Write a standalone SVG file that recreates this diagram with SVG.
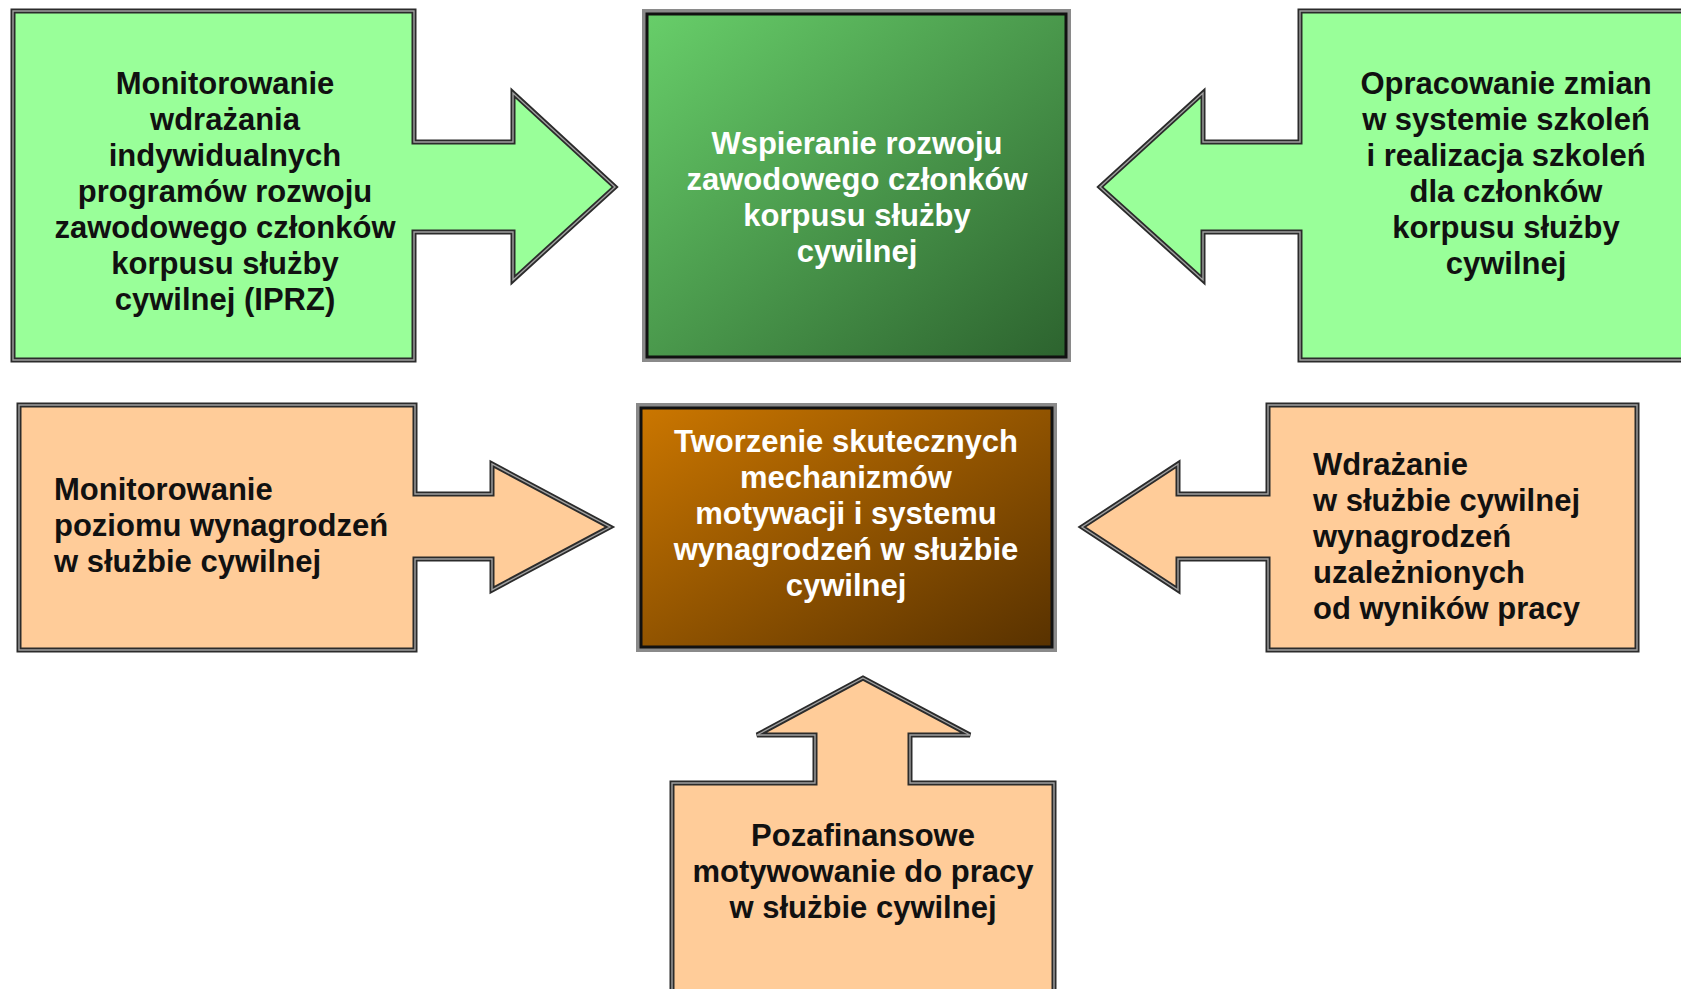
<svg xmlns="http://www.w3.org/2000/svg" width="1681" height="989" viewBox="0 0 1681 989">
<defs>
<linearGradient id="gGreen" x1="0" y1="0" x2="1" y2="1">
<stop offset="0" stop-color="#68cf6a"/>
<stop offset="1" stop-color="#2c622e"/>
</linearGradient>
<linearGradient id="gBrown" x1="0" y1="0" x2="1" y2="1">
<stop offset="0" stop-color="#cc7700"/>
<stop offset="1" stop-color="#573100"/>
</linearGradient>
<style>
.lg{fill:#99ff99}
.pe{fill:#ffcc99}
.o1{fill:none;stroke:#2b2b2b;stroke-width:5;stroke-linejoin:miter}
.o2{fill:none;stroke:#a0a0a0;stroke-width:1.4;stroke-linejoin:miter}
.c1{fill:none;stroke:#8a8a8a;stroke-width:4}
.c2{fill:none;stroke:#111;stroke-width:3}
.t{font-family:"Liberation Sans",Arial,sans-serif;font-weight:bold;font-size:31px;fill:#111}
.m{text-anchor:middle}
.w{fill:#fff}
</style>
</defs>
<rect width="1681" height="989" fill="#fff"/>
<g id="connectors"></g>

<g id="n-monitorowanie-iprz">
<path class="lg" d="M13,11 H414 V142 H513 V93 L615,187 L513,280 V232 H414 V360 H13 Z"/>
<path class="o1" d="M13,11 H414 V142 H513 V93 L615,187 L513,280 V232 H414 V360 H13 Z"/>
<path class="o2" d="M13,11 H414 V142 H513 V93 L615,187 L513,280 V232 H414 V360 H13 Z"/>
<text class="t m" x="225"><tspan x="225" y="94">Monitorowanie</tspan><tspan x="225" y="130">wdrażania</tspan><tspan x="225" y="166">indywidualnych</tspan><tspan x="225" y="202">programów rozwoju</tspan><tspan x="225" y="238">zawodowego członków</tspan><tspan x="225" y="274">korpusu służby</tspan><tspan x="225" y="310">cywilnej (IPRZ)</tspan></text>
</g>

<g id="n-wspieranie">
<rect x="644" y="11" width="425" height="349" fill="url(#gGreen)"/>
<rect class="c1" x="644" y="11" width="425" height="349"/>
<rect class="c2" x="647" y="14" width="419" height="343"/>
<text class="t m w"><tspan x="857" y="154">Wspieranie rozwoju</tspan><tspan x="857" y="190">zawodowego członków</tspan><tspan x="857" y="226">korpusu służby</tspan><tspan x="857" y="262">cywilnej</tspan></text>
</g>

<g id="n-opracowanie">
<path class="lg" d="M1300,11 H1700 V360 H1300 V232 H1203 V280 L1100,187 L1203,93 V142 H1300 Z"/>
<path class="o1" d="M1300,11 H1700 V360 H1300 V232 H1203 V280 L1100,187 L1203,93 V142 H1300 Z"/>
<path class="o2" d="M1300,11 H1700 V360 H1300 V232 H1203 V280 L1100,187 L1203,93 V142 H1300 Z"/>
<text class="t m"><tspan x="1506" y="94">Opracowanie zmian</tspan><tspan x="1506" y="130">w systemie szkoleń</tspan><tspan x="1506" y="166">i realizacja szkoleń</tspan><tspan x="1506" y="202">dla członków</tspan><tspan x="1506" y="238">korpusu służby</tspan><tspan x="1506" y="274">cywilnej</tspan></text>
</g>

<g id="n-monitorowanie-wynagrodzen">
<path class="pe" d="M19,405 H415 V494 H492 V464 L610,527 L492,590 V559 H415 V650 H19 Z"/>
<path class="o1" d="M19,405 H415 V494 H492 V464 L610,527 L492,590 V559 H415 V650 H19 Z"/>
<path class="o2" d="M19,405 H415 V494 H492 V464 L610,527 L492,590 V559 H415 V650 H19 Z"/>
<text class="t"><tspan x="54" y="500">Monitorowanie</tspan><tspan x="54" y="536">poziomu wynagrodzeń</tspan><tspan x="54" y="572">w służbie cywilnej</tspan></text>
</g>

<g id="n-tworzenie">
<rect x="638" y="405" width="417" height="245" fill="url(#gBrown)"/>
<rect class="c1" x="638" y="405" width="417" height="245"/>
<rect class="c2" x="641" y="408" width="411" height="239"/>
<text class="t m w"><tspan x="846" y="452">Tworzenie skutecznych</tspan><tspan x="846" y="488">mechanizmów</tspan><tspan x="846" y="524">motywacji i systemu</tspan><tspan x="846" y="560">wynagrodzeń w służbie</tspan><tspan x="846" y="596">cywilnej</tspan></text>
</g>

<g id="n-wdrazanie">
<path class="pe" d="M1268,405 H1637 V650 H1268 V559 H1178 V590 L1082,527 L1178,464 V494 H1268 Z"/>
<path class="o1" d="M1268,405 H1637 V650 H1268 V559 H1178 V590 L1082,527 L1178,464 V494 H1268 Z"/>
<path class="o2" d="M1268,405 H1637 V650 H1268 V559 H1178 V590 L1082,527 L1178,464 V494 H1268 Z"/>
<text class="t"><tspan x="1313" y="475">Wdrażanie</tspan><tspan x="1313" y="511">w służbie cywilnej</tspan><tspan x="1313" y="547">wynagrodzeń</tspan><tspan x="1313" y="583">uzależnionych</tspan><tspan x="1313" y="619">od wyników pracy</tspan></text>
</g>

<g id="n-pozafinansowe">
<path class="pe" d="M672,1000 V783 H815 V735 H757 L863,678 L970,735 H910 V783 H1054 V1000 Z"/>
<path class="o1" d="M672,1000 V783 H815 V735 H757 L863,678 L970,735 H910 V783 H1054 V1000 Z"/>
<path class="o2" d="M672,1000 V783 H815 V735 H757 L863,678 L970,735 H910 V783 H1054 V1000 Z"/>
<text class="t m"><tspan x="863" y="846">Pozafinansowe</tspan><tspan x="863" y="882">motywowanie do pracy</tspan><tspan x="863" y="918">w służbie cywilnej</tspan></text>
</g>
</svg>
